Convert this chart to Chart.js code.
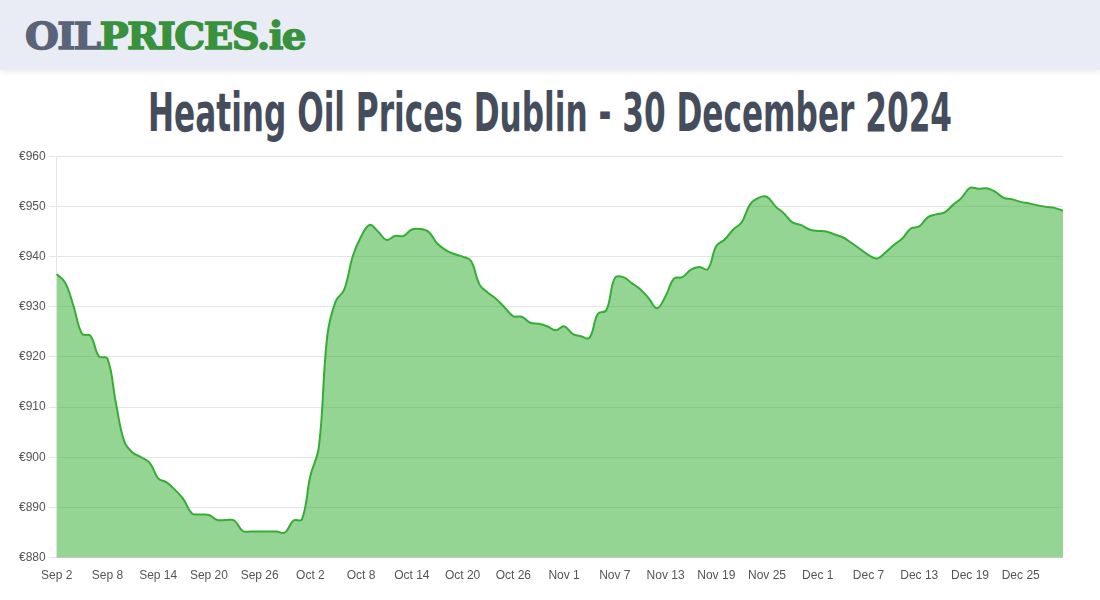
<!DOCTYPE html>
<html>
<head>
<meta charset="UTF-8">
<title>Heating Oil Prices Dublin</title>
<script src="https://cdn.jsdelivr.net/npm/chart.js"></script>
<style>
    html, body {
        margin: 0;
        padding: 0;
        background: #fff;
        width: 1100px;
        height: 600px;
        overflow: hidden;
        font-family: 'Liberation Sans', Arial, sans-serif;
    }

    .topbar {
        position: absolute;
        left: 0; top: 0;
        width: 1100px;
        height: 70px;
        background: #e9ecf4;
        box-shadow: 0 2px 6px rgba(0, 0, 0, 0.08);
    }

    .logo {
        position: absolute;
        left: 25px;
        top: 12px;
        font-family: 'DejaVu Serif', serif;
        font-weight: bold;
        font-size: 38px;
        letter-spacing: -1.5px;
        line-height: 48px;
        -webkit-text-stroke: 1.4px;
        white-space: nowrap;
        transform-origin: 0 50%;
    }
    .logo .oil { color: #5a6378; -webkit-text-stroke-color: #5a6378; }
    .logo .prices { color: #38913d; -webkit-text-stroke-color: #38913d; }

    h1 {
        position: absolute;
        left: 550px;
        top: 78px;
        margin: 0;
        font-family: 'DejaVu Sans', sans-serif;
        font-stretch: condensed;
        font-weight: bold;
        font-size: 54px;
        line-height: 70px;
        color: #454d5c;
        white-space: nowrap;
        transform-origin: 50% 50%;
    }

    #chartBox {
        position: absolute;
        left: 0;
        top: 146px;
        width: 1063px;
        height: 440px;
    }
</style>
</head>
<body>
<div class="topbar">
    <div class="logo" id="logo"><span class="oil">OIL</span><span class="prices">PRICES.ie</span></div>
</div>
<h1 id="title">Heating Oil Prices Dublin - 30 December 2024</h1>

<div id="chartBox">
    <canvas id="priceChart"></canvas>
</div>

<script>
    // squeeze the title and logo to the widths used on the page
    function fitWidth(id, target, before) {
        var el = document.getElementById(id);
        var w = el.getBoundingClientRect().width;
        el.style.transform = (before || '') + ' scaleX(' + (target / w) + ')';
    }
    fitWidth('title', 804, 'translateX(-50%)');
    fitWidth('logo', 280);

    // days shown: 2 Sep .. 30 Dec 2024
    var monthNames = ['Sep', 'Oct', 'Nov', 'Dec'];
    var monthDays = [30, 31, 30, 31];
    var firstDay = 2;
    var lastDay = 30;

    var days = [];
    for (var m = 0; m < monthNames.length; m++) {
        var start = m === 0 ? firstDay : 1;
        var end = m === monthNames.length - 1 ? lastDay : monthDays[m];
        for (var d = start; d <= end; d++) {
            days.push(monthNames[m] + ' ' + d);
        }
    }

    // price in euro, one value per day
    var sepPrices = [
        936.5, 934.8, 930.1, 924.6, 924.2, 920.1, 919.7, 910.8, 903.1, 900.9,
        900.0, 898.9, 895.8, 895.0, 893.5, 891.6, 888.8, 888.6, 888.5, 887.5,
        887.5, 887.4, 885.3, 885.2, 885.2, 885.2, 885.2, 885.0, 887.4
    ];
    var octPrices = [
        887.6, 896.3, 902.0, 924.2, 931.1, 933.4, 940.0, 944.0, 946.3, 945.0,
        943.3, 944.1, 944.1, 945.4, 945.5, 944.9, 942.6, 941.3, 940.5, 940.0,
        939.1, 934.4, 932.8, 931.5, 929.8, 928.1, 928.0, 926.8, 926.6, 926.1,
        925.3
    ];
    var novPrices = [
        926.1, 924.6, 924.1, 923.8, 928.6, 929.3, 935.7, 935.9, 934.7, 933.5,
        931.7, 929.7, 932.1, 935.6, 935.9, 937.4, 937.9, 937.5, 942.1, 943.4,
        945.4, 946.8, 950.4, 951.7, 951.9, 950.0, 948.6, 946.8, 946.3, 945.4
    ];
    var decPrices = [
        945.1, 945.0, 944.4, 943.8, 942.7, 941.5, 940.3, 939.6, 940.8, 942.3,
        943.6, 945.6, 946.0, 947.8, 948.4, 948.8, 950.3, 951.7, 953.7, 953.5,
        953.6, 952.9, 951.7, 951.4, 950.9, 950.6, 950.2, 949.9, 949.7, 949.1
    ];
    var prices = sepPrices.concat(octPrices, novPrices, decPrices);

    var yMin = 880;
    var yMax = 960;
    var yStep = 10;
    var labelEvery = 6;

    var ctx = document.getElementById('priceChart').getContext('2d');
    var priceChart = new Chart(ctx, {
        type: 'line',
        data: {
            labels: days,
            datasets: [{
                label: 'Heating Oil Price',
                data: prices,
                borderColor: '#35ad35',
                backgroundColor: 'rgba(50, 175, 50, 0.52)',
                borderWidth: 2,
                fill: true,
                tension: 0.4,
                pointRadius: 0,
                pointHoverRadius: 0
            }]
        },
        options: {
            responsive: true,
            maintainAspectRatio: false,
            animation: false,
            layout: {
                padding: { left: 16, right: 0, top: 4, bottom: 0 }
            },
            plugins: {
                legend: { display: false },
                tooltip: { enabled: false }
            },
            scales: {
                x: {
                    grid: { display: false },
                    border: { display: true, color: 'rgba(0,0,0,0.1)' },
                    ticks: {
                        autoSkip: false,
                        maxRotation: 0,
                        color: '#555',
                        font: { size: 12 },
                        callback: function(val, i) {
                            return i % labelEvery === 0 ? days[i] : null;
                        }
                    }
                },
                y: {
                    min: yMin,
                    max: yMax,
                    grid: { color: 'rgba(0,0,0,0.1)' },
                    border: { display: true, color: 'rgba(0,0,0,0.1)' },
                    ticks: {
                        stepSize: yStep,
                        color: '#555',
                        font: { size: 12 },
                        callback: function(v) { return '€' + v; }
                    }
                }
            }
        }
    });
</script>
</body>
</html>
